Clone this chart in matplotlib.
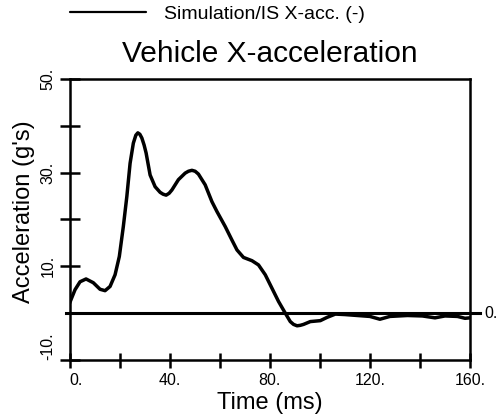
import matplotlib
matplotlib.use("Agg")
import matplotlib.pyplot as plt

plt.rcParams['font.family'] = ['Liberation Sans', 'DejaVu Sans']

# simulated vehicle x-acceleration
time_ms = [0, 2.2, 4.2, 6.6, 9.5, 12.2, 14.2, 16.2, 18.2, 19.9, 21.5, 22.9, 24.2,
           25.5, 26.5, 27.3, 28.1, 28.9, 29.8, 30.6, 32.2, 34.2, 36.2, 37.4, 38.6,
           39.8, 40.9, 43.5, 46.2, 47.5, 48.9, 50.2, 51.5, 54.2, 56.9, 58.9, 62.2,
           64.9, 66.9, 69.5, 72.9, 75.5, 78.2, 80.9, 83.5, 86.2, 88.2, 89.5, 90.9,
           92.2, 93.5, 96.2, 100.2, 102.9, 106.2, 110, 115, 120, 124, 128, 135,
           141, 146, 150, 155, 158, 160]
accel_g = [2.1, 5.0, 6.7, 7.3, 6.5, 5.1, 4.8, 5.7, 8.2, 12.1, 18.5, 24.9, 32.0,
           36.3, 38.0, 38.5, 38.2, 37.4, 35.9, 34.2, 29.5, 27.0, 25.8, 25.4, 25.2,
           25.6, 26.3, 28.5, 29.9, 30.3, 30.5, 30.3, 29.7, 27.4, 23.8, 21.7, 18.5,
           15.6, 13.5, 11.9, 11.2, 10.3, 8.2, 5.3, 2.5, 0.0, -1.8, -2.4, -2.7,
           -2.6, -2.4, -1.8, -1.6, -0.9, -0.2, -0.3, -0.5, -0.7, -1.3, -0.7, -0.5,
           -0.6, -1.0, -0.6, -0.7, -1.1, -1.0]

xticks = [0, 20, 40, 60, 80, 100, 120, 140, 160]
xticklabels = ['0.', '', '40.', '', '80.', '', '120.', '', '160.']
yticks = [-10, 10, 20, 30, 40, 50]
yticklabels = ['-10.', '10.', '', '30.', '', '50.']

fig = plt.figure(figsize=(4.99, 4.20), dpi=100)
ax = fig.add_axes([0.1393, 0.1429, 0.8026, 0.669])

ax.plot(time_ms, accel_g, color='black', lw=2.5, solid_joinstyle='round',
        solid_capstyle='round', label='Simulation/IS X-acc. (-)')
ax.axhline(0, xmin=-0.008, xmax=1.025, color='black', lw=2.2, clip_on=False)
ax.text(1.037, 0, '0.', transform=ax.get_yaxis_transform(), fontsize=11.5,
        ha='left', va='center')

ax.set_xlim(0, 160)
ax.set_ylim(-10, 50)
ax.set_xticks(xticks)
ax.set_xticklabels(xticklabels)
ax.set_yticks(yticks)
ax.set_yticklabels(yticklabels)
ax.tick_params(axis='x', direction='inout', length=10.8, width=1.8, pad=4,
               labelsize=11.5)
ax.tick_params(axis='y', direction='inout', length=14.4, width=1.8, pad=3,
               labelsize=11.5, labelrotation=90)
for lab in ax.get_yticklabels():
    lab.set_va('center')
ax.get_yticklabels()[0].set_va('bottom')
ax.get_xticklabels()[0].set_ha('left')

for sp in ax.spines.values():
    sp.set_linewidth(1.8)

ax.set_title('Vehicle X-acceleration', fontsize=21.5, pad=12)
ax.set_xlabel('Time (ms)', fontsize=17, labelpad=3)
ax.set_ylabel("Acceleration (g's)", fontsize=17)
ax.yaxis.set_label_coords(-0.085, 0.528)

leg = fig.legend(loc='center left', bbox_to_anchor=(0.1403, 0.9667), frameon=False,
                 fontsize=14, handlelength=3.9, handletextpad=0.95, borderpad=0,
                 borderaxespad=0)
leg.get_lines()[0].set_linewidth(1.6)

fig.savefig('out.png', dpi=100)
